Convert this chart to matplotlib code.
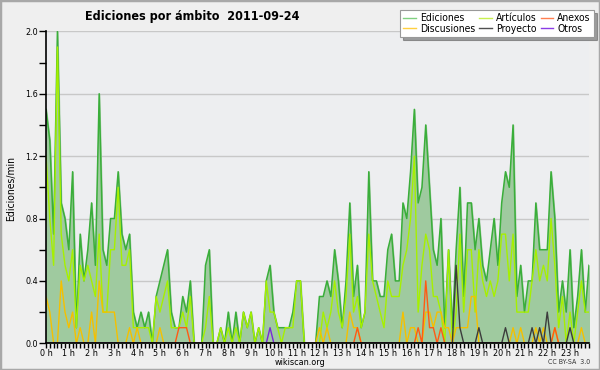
import numpy as np
import matplotlib.pyplot as plt
from matplotlib.lines import Line2D
from matplotlib.patches import Rectangle

# edits per minute, one value per 10-minute slot (144 slots)
ediciones = [1.5, 1.3, 0.7, 2.0, 0.9, 0.8, 0.6, 1.1, 0.1, 0.7, 0.4, 0.6,
             0.9, 0.5, 1.6, 0.6, 0.5, 0.8, 0.8, 1.1, 0.7, 0.6, 0.7, 0.2,
             0.1, 0.2, 0.1, 0.2, 0.0, 0.3, 0.4, 0.5, 0.6, 0.2, 0.1, 0.1,
             0.3, 0.2, 0.4, 0.0, 0.0, 0.0, 0.5, 0.6, 0.0, 0.0, 0.1, 0.0,
             0.2, 0.0, 0.2, 0.0, 0.2, 0.1, 0.2, 0.0, 0.1, 0.0, 0.4, 0.5,
             0.2, 0.1, 0.1, 0.1, 0.1, 0.2, 0.4, 0.4, 0.0, 0.0, 0.0, 0.0,
             0.3, 0.3, 0.4, 0.3, 0.6, 0.4, 0.1, 0.4, 0.9, 0.3, 0.5, 0.1,
             0.2, 1.1, 0.4, 0.4, 0.3, 0.3, 0.6, 0.7, 0.4, 0.4, 0.9, 0.8,
             1.1, 1.5, 0.9, 1.0, 1.4, 1.0, 0.6, 0.5, 0.8, 0.1, 0.6, 0.1,
             0.6, 1.0, 0.3, 0.9, 0.9, 0.6, 0.8, 0.5, 0.4, 0.6, 0.8, 0.5,
             0.9, 1.1, 1.0, 1.4, 0.3, 0.5, 0.2, 0.4, 0.4, 0.9, 0.6, 0.6,
             0.6, 1.1, 0.8, 0.2, 0.4, 0.2, 0.6, 0.1, 0.3, 0.6, 0.2, 0.5]

articulos = [1.2, 0.8, 0.5, 1.9, 0.7, 0.5, 0.4, 0.6, 0.1, 0.5, 0.4, 0.5,
             0.4, 0.3, 0.7, 0.2, 0.2, 0.6, 0.6, 1.0, 0.5, 0.5, 0.6, 0.1,
             0.1, 0.1, 0.1, 0.1, 0.0, 0.3, 0.2, 0.3, 0.4, 0.1, 0.1, 0.1,
             0.2, 0.1, 0.3, 0.0, 0.0, 0.0, 0.1, 0.3, 0.0, 0.0, 0.1, 0.0,
             0.1, 0.0, 0.1, 0.0, 0.2, 0.1, 0.2, 0.0, 0.1, 0.0, 0.4, 0.2,
             0.2, 0.1, 0.0, 0.1, 0.1, 0.1, 0.4, 0.4, 0.0, 0.0, 0.0, 0.0,
             0.0, 0.2, 0.1, 0.2, 0.4, 0.2, 0.1, 0.3, 0.7, 0.2, 0.3, 0.1,
             0.2, 0.7, 0.4, 0.3, 0.2, 0.1, 0.4, 0.3, 0.3, 0.3, 0.5, 0.6,
             0.8, 1.2, 0.2, 0.5, 0.7, 0.6, 0.3, 0.3, 0.2, 0.0, 0.6, 0.0,
             0.2, 0.7, 0.2, 0.6, 0.6, 0.2, 0.6, 0.4, 0.3, 0.4, 0.3, 0.4,
             0.7, 0.7, 0.4, 0.7, 0.2, 0.2, 0.2, 0.2, 0.4, 0.6, 0.4, 0.5,
             0.4, 0.8, 0.5, 0.1, 0.3, 0.0, 0.2, 0.0, 0.2, 0.4, 0.2, 0.2]

discusiones = [0.3, 0.2, 0, 0, 0.4, 0.2, 0.1, 0.2, 0, 0.1, 0, 0,
               0.2, 0, 0.4, 0.2, 0.2, 0.2, 0.2, 0, 0, 0, 0.1, 0,
               0.1, 0, 0, 0, 0, 0, 0.1, 0, 0, 0, 0, 0,
               0, 0, 0, 0, 0, 0, 0, 0, 0, 0, 0, 0,
               0, 0, 0, 0, 0, 0, 0, 0, 0, 0, 0, 0,
               0, 0, 0, 0, 0, 0, 0, 0, 0, 0, 0, 0,
               0.1, 0, 0.1, 0, 0, 0, 0, 0, 0.2, 0.1, 0.1, 0,
               0, 0, 0, 0, 0, 0, 0, 0, 0, 0, 0.2, 0,
               0.1, 0.1, 0, 0, 0.2, 0.2, 0.1, 0.2, 0.2, 0.1, 0.1, 0,
               0.1, 0.1, 0.1, 0.1, 0.3, 0.3, 0, 0, 0, 0, 0, 0,
               0, 0, 0, 0.1, 0, 0.1, 0, 0, 0, 0.1, 0, 0.1,
               0, 0, 0.1, 0, 0, 0, 0, 0, 0, 0.1, 0, 0]

anexos = [0, 0, 0, 0, 0, 0, 0, 0, 0, 0, 0, 0,
          0, 0, 0, 0, 0, 0, 0, 0, 0, 0, 0, 0,
          0, 0, 0, 0, 0, 0, 0, 0, 0, 0, 0, 0.1,
          0.1, 0.1, 0, 0, 0, 0, 0, 0, 0, 0, 0, 0,
          0, 0, 0, 0, 0, 0, 0, 0, 0, 0, 0, 0,
          0, 0, 0, 0, 0, 0, 0, 0, 0, 0, 0, 0,
          0, 0, 0, 0, 0, 0, 0, 0, 0, 0, 0.1, 0,
          0, 0, 0, 0, 0, 0, 0, 0, 0, 0, 0, 0,
          0, 0, 0.1, 0, 0.4, 0.1, 0.1, 0, 0.1, 0, 0, 0,
          0, 0, 0, 0, 0, 0, 0, 0, 0, 0, 0, 0,
          0, 0, 0, 0, 0, 0, 0, 0, 0, 0, 0, 0,
          0, 0, 0.1, 0, 0, 0, 0, 0, 0, 0, 0, 0]

proyecto = [0] * 108 + [0.5, 0.1, 0, 0, 0, 0, 0.1, 0, 0, 0, 0, 0,
                        0, 0.1, 0, 0, 0, 0, 0, 0, 0.1, 0, 0.1, 0,
                        0.2, 0, 0, 0, 0, 0, 0.1, 0, 0, 0, 0, 0]

otros = [0] * 59 + [0.1] + [0] * 84

hour_labels = ['%d h' % h for h in range(24)]

slots = np.arange(len(ediciones)) / 6.0

plt.rcParams['font.family'] = 'DejaVu Sans'
plt.rcParams['font.stretch'] = 'condensed'

fig = plt.figure(figsize=(6, 3.7), dpi=100, facecolor='#efefef')
fig.patches.append(Rectangle((0, 0), 1, 1, transform=fig.transFigure, fill=False,
                             edgecolor='#a8a8a8', linewidth=2.5))
ax = fig.add_axes([0.0767, 0.0722, 0.905, 0.843])
ax.set_facecolor('#edeef0')

ax.fill_between(slots, ediciones, color='#9fca9f', zorder=2)
ax.plot(slots, ediciones, color='#3aae3a', lw=1.1, zorder=3)
ax.plot(slots, articulos, color='#a6f000', lw=1.0, zorder=4)
ax.plot(slots, discusiones, color='#f5c000', lw=1.0, zorder=5)
ax.plot(slots, anexos, color='#ff5a14', lw=1.0, zorder=6)
ax.plot(slots, proyecto, color='#3c3c3c', lw=1.0, zorder=7)
ax.plot(slots, otros, color='#7a28d8', lw=1.0, zorder=8)

ax.set_xlim(0, slots[-1])
ax.set_ylim(0, 2.0)
ax.set_yticks([0.0, 0.4, 0.8, 1.2, 1.6, 2.0])
ax.set_yticklabels(['0.0', '0.4', '0.8', '1.2', '1.6', '2.0'])
ax.set_yticks(np.arange(0, 2.01, 0.2), minor=True)
ax.set_xticks(range(24))
ax.set_xticklabels(hour_labels)
ax.set_xticks(slots, minor=True)
ax.grid(axis='y', color='#c8c8c8', lw=1.0, zorder=1)
ax.set_axisbelow(True)
for s in ['top', 'right']:
    ax.spines[s].set_visible(False)
for s in ['left', 'bottom']:
    ax.spines[s].set_color('black')
    ax.spines[s].set_linewidth(1.2)
    ax.spines[s].set_zorder(10)
ax.tick_params(axis='both', which='both', direction='out', labelsize=6.5,
               color='black', width=1.0)
ax.tick_params(axis='x', which='both', length=3.5, pad=0.5)
ax.tick_params(axis='y', which='both', length=5, pad=1)

fig.text(0.142, 0.955, 'Ediciones por ámbito  2011-09-24', fontsize=9,
         fontweight='bold', va='center', ha='left')
fig.text(0.018, 0.49, 'Ediciones/min', fontsize=7.5, rotation=90,
         va='center', ha='center')
fig.text(0.5, 0.02, 'wikiscan.org', fontsize=6.5, ha='center', va='center')
fig.text(0.983, 0.021, 'CC BY-SA  3.0', fontsize=5, ha='right', va='center',
         color='#333333')

handles = [Line2D([], [], color='#80d080', lw=1),
           Line2D([], [], color='#ffd040', lw=1),
           Line2D([], [], color='#c8f050', lw=1),
           Line2D([], [], color='#505050', lw=1),
           Line2D([], [], color='#ff7f50', lw=1),
           Line2D([], [], color='#8a3ce6', lw=1)]
labels = ['Ediciones', 'Discusiones', 'Artículos', 'Proyecto', 'Anexos', 'Otros']
leg = fig.legend(handles, labels, ncol=3, loc='upper right',
                 bbox_to_anchor=(0.99, 0.972), fontsize=7.5, frameon=True,
                 fancybox=False, shadow=True, handlelength=1.2,
                 handletextpad=0.4, columnspacing=0.4, labelspacing=0.05,
                 borderpad=0.3, borderaxespad=0)
leg.get_frame().set_edgecolor('#999999')
leg.get_frame().set_linewidth(0.8)

fig.savefig('out.png', dpi=100, facecolor=fig.get_facecolor())
